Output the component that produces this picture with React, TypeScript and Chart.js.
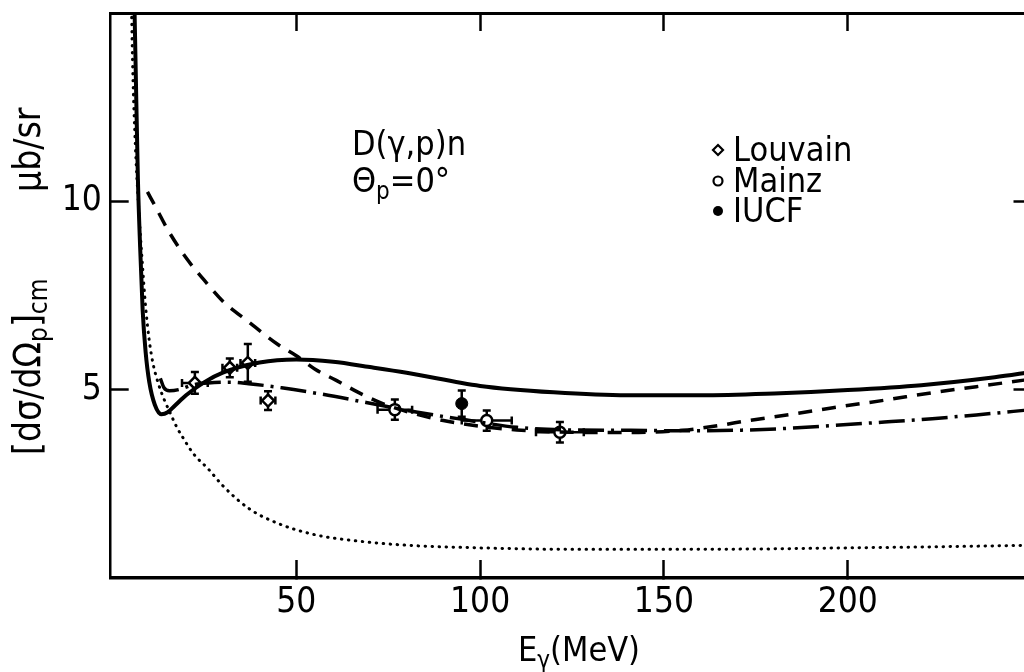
import React, { useEffect, useRef } from "react";
import { Chart, registerables } from "chart.js";

Chart.register(...registerables);

const FONT = "'Liberation Sans Narrow', 'DejaVu Sans Condensed', 'Liberation Sans', sans-serif";

// axis ticks
const xTicks = [50, 100, 150, 200];
const yTicks = [5, 10];

// theory curves (E_gamma in MeV, cross section in microbarn/sr)
const solidX = [5.8, 6.3, 6.9, 7.5, 8.2, 9, 10, 11.5, 13.3, 15, 17, 20, 25, 30, 40, 50, 60, 70, 80, 100, 120, 140, 160, 180, 200, 220, 240, 250];
const solidY = [16, 13.5, 10.6, 8.8, 7.1, 6.0, 5.2, 4.6, 4.35, 4.4, 4.58, 4.85, 5.2, 5.45, 5.72, 5.8, 5.74, 5.6, 5.45, 5.1, 4.93, 4.85, 4.85, 4.9, 4.99, 5.12, 5.33, 5.47];

const dashedX = [9.5, 12, 15, 20, 25, 30, 37, 45, 50, 55, 61, 67, 73.5, 80, 90, 100, 110, 125, 140, 155, 165, 173, 185, 196, 210, 223, 235, 250];
const dashedY = [10.25, 9.8, 9.25, 8.5, 7.9, 7.35, 6.8, 6.2, 5.9, 5.55, 5.24, 4.92, 4.63, 4.42, 4.18, 4.03, 3.93, 3.87, 3.86, 3.92, 4.05, 4.18, 4.35, 4.52, 4.72, 4.92, 5.08, 5.28];

const dashDotX = [13, 14, 15.5, 18, 22, 26, 32, 37, 46, 57, 69, 83, 96, 110, 125, 141, 155, 169, 183, 196, 210, 223, 235, 250];
const dashDotY = [5.3, 5.05, 4.97, 5.0, 5.13, 5.18, 5.2, 5.16, 5.05, 4.88, 4.66, 4.4, 4.2, 4.0, 3.93, 3.92, 3.91, 3.92, 3.97, 4.05, 4.14, 4.23, 4.33, 4.47];

const dottedX = [5.0, 5.5, 6.2, 7.0, 8.0, 9.0, 10, 11, 12.5, 14, 15.6, 17.5, 19, 22, 26, 30, 37, 45, 55, 65, 80, 100, 125, 150, 175, 200, 225, 250];
const dottedY = [16, 13.5, 11.5, 10, 8.5, 7.2, 6.3, 5.7, 5.15, 4.75, 4.4, 4.0, 3.75, 3.3, 2.9, 2.45, 1.85, 1.45, 1.15, 1.0, 0.87, 0.8, 0.76, 0.76, 0.77, 0.8, 0.83, 0.87];

// measurements
const louvainX = [22.4, 31.9, 36.8, 42.3];
const louvainY = [5.18, 5.58, 5.71, 4.71];
const louvainYErr = [0.29, 0.25, 0.5, 0.25];
const louvainXErr = [3.5, 2, 2, 2];

const mainzX = [76.8, 101.8, 121.7];
const mainzY = [4.47, 4.18, 3.87];
const mainzYErr = [0.27, 0.27, 0.27];
const mainzXErr = [4.7, 6.8, 6.5];

const iucfX = [95];
const iucfY = [4.63];
const iucfYErr = [0.35];
const iucfXErr = [0];

const zip = (xs: number[], ys: number[]) => xs.map((x, i) => ({ x, y: ys[i] }));

type Seg = { t: string; sub?: boolean };

function richWidth(ctx: CanvasRenderingContext2D, segs: Seg[], size: number, subSize: number) {
  let w = 0;
  for (const s of segs) {
    ctx.font = `${s.sub ? subSize : size}px ${FONT}`;
    w += ctx.measureText(s.t).width;
  }
  return w;
}

function drawRich(ctx: CanvasRenderingContext2D, segs: Seg[], x: number, y: number, size: number, subSize: number, subDrop: number) {
  let cx = x;
  ctx.textBaseline = "alphabetic";
  ctx.textAlign = "left";
  for (const s of segs) {
    ctx.font = `${s.sub ? subSize : size}px ${FONT}`;
    ctx.fillText(s.t, cx, s.sub ? y + subDrop : y);
    cx += ctx.measureText(s.t).width;
  }
}

const decor = {
  id: "decor",
  beforeDatasetsDraw(chart: any) {
    const ctx: CanvasRenderingContext2D = chart.ctx;
    const xs = chart.scales.x;
    const ys = chart.scales.y;
    ctx.save();
    ctx.strokeStyle = "#000";
    ctx.lineWidth = 2.5;
    const groups = [
      [louvainX, louvainY, louvainYErr, louvainXErr],
      [mainzX, mainzY, mainzYErr, mainzXErr],
      [iucfX, iucfY, iucfYErr, iucfXErr],
    ];
    const cap = 4;
    for (const [gx, gy, ey, ex] of groups) {
      for (let i = 0; i < gx.length; i++) {
        const px = xs.getPixelForValue(gx[i]);
        const py = ys.getPixelForValue(gy[i]);
        const top = ys.getPixelForValue(gy[i] + ey[i]);
        const bot = ys.getPixelForValue(gy[i] - ey[i]);
        ctx.beginPath();
        ctx.moveTo(px, top);
        ctx.lineTo(px, bot);
        ctx.moveTo(px - cap, top);
        ctx.lineTo(px + cap, top);
        ctx.moveTo(px - cap, bot);
        ctx.lineTo(px + cap, bot);
        if (ex[i] > 0) {
          const l = xs.getPixelForValue(gx[i] - ex[i]);
          const r = xs.getPixelForValue(gx[i] + ex[i]);
          ctx.moveTo(l, py);
          ctx.lineTo(r, py);
          ctx.moveTo(l, py - cap);
          ctx.lineTo(l, py + cap);
          ctx.moveTo(r, py - cap);
          ctx.lineTo(r, py + cap);
        }
        ctx.stroke();
      }
    }
    ctx.restore();
  },
  afterDraw(chart: any) {
    const ctx: CanvasRenderingContext2D = chart.ctx;
    ctx.save();
    ctx.fillStyle = "#000";
    ctx.strokeStyle = "#000";
    const size = 34;
    const sub = 24;

    // x title
    const xt: Seg[] = [{ t: "E" }, { t: "γ", sub: true }, { t: "(MeV)" }];
    const xw = richWidth(ctx, xt, size, sub);
    drawRich(ctx, xt, 579 - xw / 2, 661, size, sub, 7);

    // y title (rotated), two parts
    const ySize = 37;
    const ySub = 26;
    const yt1: Seg[] = [{ t: "[dσ/dΩ" }, { t: "p", sub: true }, { t: "]" }, { t: "cm", sub: true }];
    const yt2: Seg[] = [{ t: "μb/sr" }];
    ctx.save();
    ctx.translate(40, 0);
    ctx.rotate(-Math.PI / 2);
    drawRich(ctx, yt1, -455, 0, ySize, ySub, 7);
    drawRich(ctx, yt2, -192, 0, ySize, ySub, 7);
    ctx.restore();

    // reaction labels
    drawRich(ctx, [{ t: "D(γ,p)n" }], 352, 155, size, sub, 7);
    drawRich(ctx, [{ t: "Θ" }, { t: "p", sub: true }, { t: "=0°" }], 352, 192, size, sub, 7);

    // legend
    const lx = 718;
    const rows = [161, 192, 222];
    const names = ["Louvain", "Mainz", "IUCF"];
    ctx.lineWidth = 2.2;
    let cy = rows[0] - 11;
    ctx.beginPath();
    ctx.moveTo(lx, cy - 5);
    ctx.lineTo(lx + 5, cy);
    ctx.lineTo(lx, cy + 5);
    ctx.lineTo(lx - 5, cy);
    ctx.closePath();
    ctx.stroke();
    cy = rows[1] - 11;
    ctx.beginPath();
    ctx.arc(lx, cy, 4.5, 0, Math.PI * 2);
    ctx.stroke();
    cy = rows[2] - 11;
    ctx.beginPath();
    ctx.arc(lx, cy, 5, 0, Math.PI * 2);
    ctx.fill();
    for (let i = 0; i < names.length; i++) {
      drawRich(ctx, [{ t: names[i] }], lx + 15, rows[i], size, sub, 7);
    }
    ctx.restore();
  },
};

const tickGrid = {
  drawOnChartArea: false,
  drawTicks: true,
  tickLength: -18,
  tickWidth: 2.5,
  tickColor: "#000",
};

const noPad = (s: any) => {
  s.paddingTop = 0;
  s.paddingBottom = 0;
  s.paddingLeft = 0;
  s.paddingRight = 0;
};

export default function App() {
  const ref = useRef<HTMLCanvasElement | null>(null);
  useEffect(() => {
    if (!ref.current) return;
    const lineBase = {
      type: "line" as const,
      pointRadius: 0,
      fill: false,
      borderColor: "#000",
      cubicInterpolationMode: "monotone" as const,
    };
    const chart = new Chart(ref.current, {
      type: "line",
      data: {
        datasets: [
          { ...lineBase, label: "solid", data: zip(solidX, solidY), borderWidth: 4 },
          { ...lineBase, label: "dashed", data: zip(dashedX, dashedY), borderWidth: 3.5, borderDash: [14, 10] },
          { ...lineBase, label: "dashdot", data: zip(dashDotX, dashDotY), borderWidth: 3.5, borderDash: [26, 7, 3, 7] },
          { ...lineBase, label: "dotted", data: zip(dottedX, dottedY), borderWidth: 3, borderDash: [0.5, 6.5], borderCapStyle: "round" },
          {
            type: "line" as const,
            label: "Louvain",
            data: zip(louvainX, louvainY),
            showLine: false,
            pointStyle: "rectRot",
            pointRadius: 6,
            pointBorderWidth: 2.5,
            pointBorderColor: "#000",
            pointBackgroundColor: "#fff",
          },
          {
            type: "line" as const,
            label: "Mainz",
            data: zip(mainzX, mainzY),
            showLine: false,
            pointStyle: "circle",
            pointRadius: 5.5,
            pointBorderWidth: 2.5,
            pointBorderColor: "#000",
            pointBackgroundColor: "#fff",
          },
          {
            type: "line" as const,
            label: "IUCF",
            data: zip(iucfX, iucfY),
            showLine: false,
            pointStyle: "circle",
            pointRadius: 6,
            pointBorderWidth: 1,
            pointBorderColor: "#000",
            pointBackgroundColor: "#000",
          },
        ],
      },
      options: {
        responsive: false,
        animation: false,
        devicePixelRatio: 1,
        layout: { padding: 0 },
        plugins: { legend: { display: false }, tooltip: { enabled: false } },
        scales: {
          x: {
            type: "linear",
            position: "bottom",
            min: -0.5,
            max: 250,
            afterBuildTicks: (s: any) => {
              s.ticks = xTicks.map((v) => ({ value: v }));
            },
            afterFit: (s: any) => {
              s.height = 94;
              noPad(s);
            },
            grid: tickGrid,
            border: { color: "#000", width: 3.5 },
            ticks: { color: "#000", font: { family: FONT, size: 35 }, padding: 22, maxRotation: 0, autoSkip: false },
          },
          xTop: {
            type: "linear",
            position: "top",
            min: -0.5,
            max: 250,
            afterBuildTicks: (s: any) => {
              s.ticks = xTicks.map((v) => ({ value: v }));
            },
            afterFit: (s: any) => {
              s.height = 13;
              noPad(s);
            },
            grid: tickGrid,
            border: { color: "#000", width: 3 },
            ticks: { display: false },
          },
          y: {
            type: "linear",
            position: "left",
            min: 0,
            max: 15,
            afterBuildTicks: (s: any) => {
              s.ticks = yTicks.map((v) => ({ value: v }));
            },
            afterFit: (s: any) => {
              s.width = 110.7;
              noPad(s);
            },
            grid: tickGrid,
            border: { color: "#000", width: 2.5 },
            ticks: { color: "#000", font: { family: FONT, size: 35 }, padding: 27 },
          },
          yRight: {
            type: "linear",
            position: "right",
            min: 0,
            max: 15,
            afterBuildTicks: (s: any) => {
              s.ticks = yTicks.map((v) => ({ value: v }));
            },
            afterFit: (s: any) => {
              s.width = 7;
              noPad(s);
            },
            grid: tickGrid,
            border: { color: "#000", width: 3 },
            ticks: { display: false },
          },
        },
      } as any,
      plugins: [decor as any],
    });
    return () => chart.destroy();
  }, []);

  return (
    <div
      style={{
        position: "absolute",
        left: 0,
        top: 0,
        width: 1024,
        height: 672,
        overflow: "hidden",
        background: "#fff",
      }}
    >
      <canvas ref={ref} width={1040} height={672} style={{ display: "block" }} />
    </div>
  );
}
